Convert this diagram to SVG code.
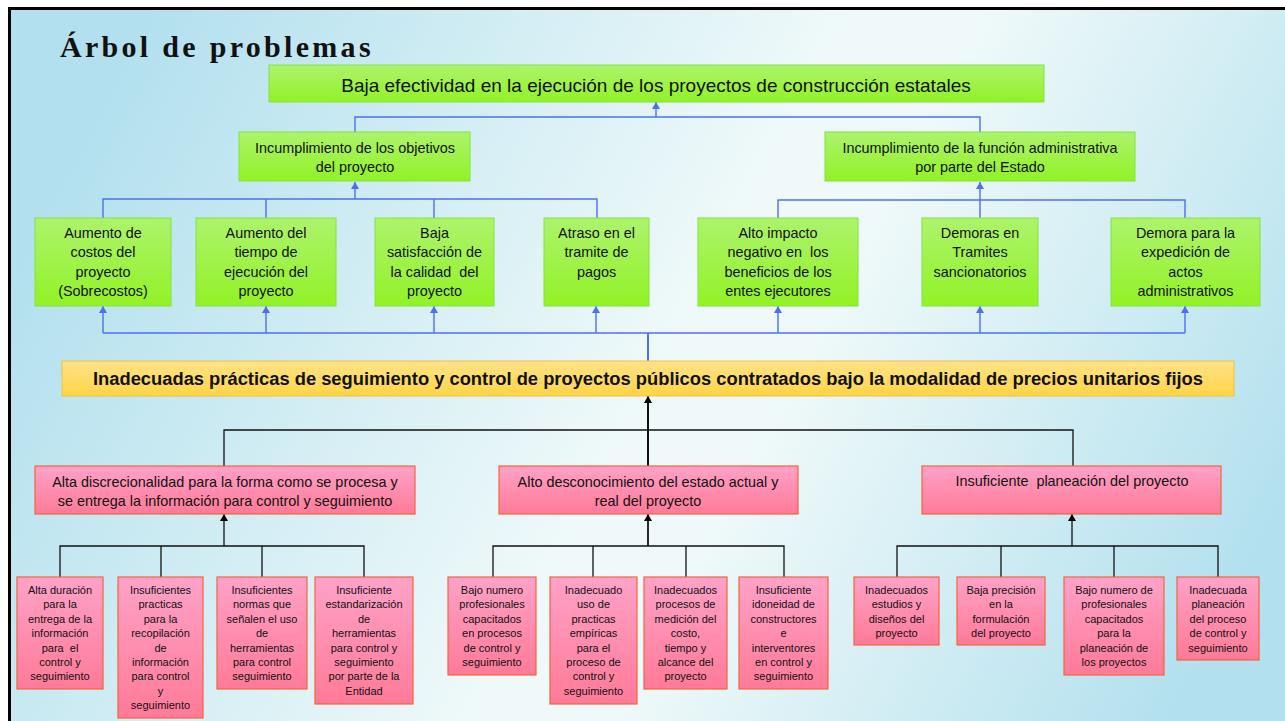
<svg xmlns="http://www.w3.org/2000/svg" width="1285" height="721" viewBox="0 0 1285 721">
<defs>
<linearGradient id="bg" x1="0" y1="0.35" x2="1" y2="0.65">
<stop offset="0" stop-color="#b2e0ee"/>
<stop offset="0.5" stop-color="#eff9f9"/>
<stop offset="0.6" stop-color="#eff9f9"/>
<stop offset="1" stop-color="#b2e0ee"/>
</linearGradient>
<linearGradient id="gGreen" x1="0" y1="0" x2="0" y2="1">
<stop offset="0" stop-color="#adf36c"/>
<stop offset="1" stop-color="#92f226"/>
</linearGradient>
<linearGradient id="gPink" x1="0" y1="0" x2="0" y2="1">
<stop offset="0" stop-color="#ffa2c8"/>
<stop offset="1" stop-color="#ff7a98"/>
</linearGradient>
<linearGradient id="gYellow" x1="0" y1="0" x2="0" y2="1">
<stop offset="0" stop-color="#ffe38a"/>
<stop offset="1" stop-color="#ffd445"/>
</linearGradient>
<marker id="aBlue" markerUnits="userSpaceOnUse" markerWidth="8" markerHeight="8" refX="7" refY="4" orient="auto">
<path d="M0,0 L7,4 L0,8 z" fill="#4d6ff2"/>
</marker>
<marker id="aBlack" markerUnits="userSpaceOnUse" markerWidth="8" markerHeight="8" refX="7" refY="4" orient="auto">
<path d="M0,0 L7,4 L0,8 z" fill="#000"/>
</marker>
</defs>
<style>
.green{fill:url(#gGreen);stroke:#82e43e;stroke-width:1}
.pink{fill:url(#gPink);stroke:#f4643e;stroke-width:1.2}
.yellow{fill:url(#gYellow);stroke:#f2c040;stroke-width:1}
text{font-family:"Liberation Sans",Arial,sans-serif;fill:#111;text-anchor:middle}
.t19{font-size:19px}
.t14{font-size:14.4px}
.t11{font-size:11px}
.tb{font-size:18px;font-weight:bold}
.blue{fill:none;stroke:#4d6ff2;stroke-width:1.4}
.blk{fill:none;stroke:#111;stroke-width:1.3}
</style>
<rect x="0" y="0" width="1285" height="721" fill="#fff"/>
<rect x="9.5" y="8.5" width="1290" height="730" fill="url(#bg)" stroke="#000" stroke-width="3"/>
<text x="60" y="57" style="font-family:'Liberation Serif','Times New Roman',serif;font-size:30px;font-weight:bold;letter-spacing:3.3px;text-anchor:start">Árbol de problemas</text>

<g id="connectors">
<path class="blue" d="M355,132 V117 H980 V132"/>
<path class="blue" d="M656,117 V102" marker-end="url(#aBlue)"/>
<path class="blue" d="M103,218 V199 H597 V218 M266,199 V218 M434,199 V218"/>
<path class="blue" d="M355,199 V182" marker-end="url(#aBlue)"/>
<path class="blue" d="M778,218 V200 H1185 V218 M980,200 V218"/>
<path class="blue" d="M980,200 V182" marker-end="url(#aBlue)"/>
<path class="blue" d="M103,333 H1185"/>
<path class="blue" style="stroke-width:2" d="M648,361 V333"/>
<path class="blue" d="M103,333 V306" marker-end="url(#aBlue)"/>
<path class="blue" d="M266,333 V306" marker-end="url(#aBlue)"/>
<path class="blue" d="M434,333 V306" marker-end="url(#aBlue)"/>
<path class="blue" d="M596,333 V306" marker-end="url(#aBlue)"/>
<path class="blue" d="M778,333 V306" marker-end="url(#aBlue)"/>
<path class="blue" d="M980,333 V306" marker-end="url(#aBlue)"/>
<path class="blue" d="M1185,333 V306" marker-end="url(#aBlue)"/>
<path class="blk" style="stroke-width:2" d="M648,466 V396" marker-end="url(#aBlack)"/>
<path class="blk" d="M224,466 V430 H1073 V466"/>
<path class="blk" d="M224,546 V514" marker-end="url(#aBlack)"/>
<path class="blk" d="M60,577 V546 H364 V577 M161,546 V577 M262,546 V577"/>
<path class="blk" style="stroke-width:1.8" d="M648,546 V514" marker-end="url(#aBlack)"/>
<path class="blk" d="M493,577 V546 H784 V577 M593,546 V577 M686,546 V577"/>
<path class="blk" d="M1072,546 V514" marker-end="url(#aBlack)"/>
<path class="blk" d="M897,577 V546 H1218 V577 M1001,546 V577 M1114,546 V577"/>
</g>

<g id="n-top">
<rect class="green" x="269" y="65" width="775" height="37"/>
<text class="t19" x="656" y="92">Baja efectividad en la ejecución de los proyectos de construcción estatales</text>
</g>
<g id="n-obj">
<rect class="green" x="239" y="132" width="231" height="49"/>
<text class="t14"><tspan x="355" y="153">Incumplimiento de los objetivos</tspan><tspan x="355" y="172">del proyecto</tspan></text>
</g>
<g id="n-adm">
<rect class="green" x="825" y="132" width="310" height="49"/>
<text class="t14"><tspan x="980" y="153">Incumplimiento de la función administrativa</tspan><tspan x="980" y="172">por parte del Estado</tspan></text>
</g>

<g id="n-costos">
<rect class="green" x="35" y="218" width="136" height="88"/>
<text class="t14"><tspan x="103" y="238">Aumento de</tspan><tspan x="103" y="257.3">costos del</tspan><tspan x="103" y="276.6">proyecto</tspan><tspan x="103" y="296">(Sobrecostos)</tspan></text>
</g>
<g id="n-tiempo">
<rect class="green" x="196" y="218" width="140" height="88"/>
<text class="t14"><tspan x="266" y="238">Aumento del</tspan><tspan x="266" y="257.3">tiempo de</tspan><tspan x="266" y="276.6">ejecución del</tspan><tspan x="266" y="296">proyecto</tspan></text>
</g>
<g id="n-calidad">
<rect class="green" x="375" y="218" width="119" height="88"/>
<text class="t14" xml:space="preserve"><tspan x="434.5" y="238">Baja</tspan><tspan x="434.5" y="257.3">satisfacción de</tspan><tspan x="434.5" y="276.6">la calidad  del</tspan><tspan x="434.5" y="296">proyecto</tspan></text>
</g>
<g id="n-pagos">
<rect class="green" x="544" y="218" width="105" height="88"/>
<text class="t14"><tspan x="596.5" y="238">Atraso en el</tspan><tspan x="596.5" y="257.3">tramite de</tspan><tspan x="596.5" y="276.6">pagos</tspan></text>
</g>
<g id="n-impacto">
<rect class="green" x="698" y="218" width="160" height="88"/>
<text class="t14" xml:space="preserve"><tspan x="778" y="238">Alto impacto</tspan><tspan x="778" y="257.3">negativo en  los</tspan><tspan x="778" y="276.6">beneficios de los</tspan><tspan x="778" y="296">entes ejecutores</tspan></text>
</g>
<g id="n-tramites">
<rect class="green" x="922" y="218" width="116" height="88"/>
<text class="t14"><tspan x="980" y="238">Demoras en</tspan><tspan x="980" y="257.3">Tramites</tspan><tspan x="980" y="276.6">sancionatorios</tspan></text>
</g>
<g id="n-actos">
<rect class="green" x="1111" y="218" width="149" height="88"/>
<text class="t14"><tspan x="1185.5" y="238">Demora para la</tspan><tspan x="1185.5" y="257.3">expedición de</tspan><tspan x="1185.5" y="276.6">actos</tspan><tspan x="1185.5" y="296">administrativos</tspan></text>
</g>

<g id="n-core">
<rect class="yellow" x="62" y="361" width="1172" height="35"/>
<text class="tb" x="648" y="385" textLength="1110" lengthAdjust="spacingAndGlyphs">Inadecuadas prácticas de seguimiento y control de proyectos públicos contratados bajo la modalidad de precios unitarios fijos</text>
</g>

<g id="n-discrec">
<rect class="pink" x="35" y="466" width="380" height="48"/>
<text class="t14"><tspan x="225" y="487">Alta discrecionalidad para la forma como se procesa y</tspan><tspan x="225" y="506">se entrega la información para control y seguimiento</tspan></text>
</g>
<g id="n-descon">
<rect class="pink" x="499" y="466" width="299" height="48"/>
<text class="t14"><tspan x="648" y="487">Alto desconocimiento del estado actual y</tspan><tspan x="648" y="506">real del proyecto</tspan></text>
</g>
<g id="n-planea">
<rect class="pink" x="922" y="466" width="299" height="48"/>
<text class="t14" xml:space="preserve" x="1072" y="486">Insuficiente  planeación del proyecto</text>
</g>

<g id="n-a1">
<rect class="pink" x="17" y="577" width="86" height="112"/>
<text class="t11" xml:space="preserve"><tspan x="60" y="594">Alta duración</tspan><tspan x="60" y="608.4">para la</tspan><tspan x="60" y="622.8">entrega de la</tspan><tspan x="60" y="637.2">información</tspan><tspan x="60" y="651.6">para  el</tspan><tspan x="60" y="666">control y</tspan><tspan x="60" y="680.4">seguimiento</tspan></text>
</g>
<g id="n-a2">
<rect class="pink" x="118" y="577" width="85" height="141"/>
<text class="t11"><tspan x="160.5" y="594">Insuficientes</tspan><tspan x="160.5" y="608.4">practicas</tspan><tspan x="160.5" y="622.8">para la</tspan><tspan x="160.5" y="637.2">recopilación</tspan><tspan x="160.5" y="651.6">de</tspan><tspan x="160.5" y="666">información</tspan><tspan x="160.5" y="680.4">para control</tspan><tspan x="160.5" y="694.8">y</tspan><tspan x="160.5" y="709.2">seguimiento</tspan></text>
</g>
<g id="n-a3">
<rect class="pink" x="217" y="577" width="90" height="112"/>
<text class="t11"><tspan x="262" y="594">Insuficientes</tspan><tspan x="262" y="608.4">normas que</tspan><tspan x="262" y="622.8">señalen el uso</tspan><tspan x="262" y="637.2">de</tspan><tspan x="262" y="651.6">herramientas</tspan><tspan x="262" y="666">para control</tspan><tspan x="262" y="680.4">seguimiento</tspan></text>
</g>
<g id="n-a4">
<rect class="pink" x="315" y="577" width="98" height="127"/>
<text class="t11"><tspan x="364" y="594">Insuficiente</tspan><tspan x="364" y="608.4">estandarización</tspan><tspan x="364" y="622.8">de</tspan><tspan x="364" y="637.2">herramientas</tspan><tspan x="364" y="651.6">para control y</tspan><tspan x="364" y="666">seguimiento</tspan><tspan x="364" y="680.4">por parte de la</tspan><tspan x="364" y="694.8">Entidad</tspan></text>
</g>

<g id="n-b1">
<rect class="pink" x="448" y="577" width="88" height="98"/>
<text class="t11"><tspan x="492" y="594">Bajo numero</tspan><tspan x="492" y="608.4">profesionales</tspan><tspan x="492" y="622.8">capacitados</tspan><tspan x="492" y="637.2">en procesos</tspan><tspan x="492" y="651.6">de control y</tspan><tspan x="492" y="666">seguimiento</tspan></text>
</g>
<g id="n-b2">
<rect class="pink" x="550" y="577" width="87" height="127"/>
<text class="t11"><tspan x="593.5" y="594">Inadecuado</tspan><tspan x="593.5" y="608.4">uso de</tspan><tspan x="593.5" y="622.8">practicas</tspan><tspan x="593.5" y="637.2">empíricas</tspan><tspan x="593.5" y="651.6">para el</tspan><tspan x="593.5" y="666">proceso de</tspan><tspan x="593.5" y="680.4">control y</tspan><tspan x="593.5" y="694.8">seguimiento</tspan></text>
</g>
<g id="n-b3">
<rect class="pink" x="644" y="577" width="83" height="112"/>
<text class="t11"><tspan x="685.5" y="594">Inadecuados</tspan><tspan x="685.5" y="608.4">procesos de</tspan><tspan x="685.5" y="622.8">medición del</tspan><tspan x="685.5" y="637.2">costo,</tspan><tspan x="685.5" y="651.6">tiempo y</tspan><tspan x="685.5" y="666">alcance del</tspan><tspan x="685.5" y="680.4">proyecto</tspan></text>
</g>
<g id="n-b4">
<rect class="pink" x="739" y="577" width="89" height="112"/>
<text class="t11"><tspan x="783.5" y="594">Insuficiente</tspan><tspan x="783.5" y="608.4">idoneidad de</tspan><tspan x="783.5" y="622.8">constructores</tspan><tspan x="783.5" y="637.2">e</tspan><tspan x="783.5" y="651.6">interventores</tspan><tspan x="783.5" y="666">en control y</tspan><tspan x="783.5" y="680.4">seguimiento</tspan></text>
</g>

<g id="n-c1">
<rect class="pink" x="854" y="577" width="85" height="68"/>
<text class="t11"><tspan x="896.5" y="594">Inadecuados</tspan><tspan x="896.5" y="608.4">estudios y</tspan><tspan x="896.5" y="622.8">diseños del</tspan><tspan x="896.5" y="637.2">proyecto</tspan></text>
</g>
<g id="n-c2">
<rect class="pink" x="957" y="577" width="88" height="68"/>
<text class="t11"><tspan x="1001" y="594">Baja precisión</tspan><tspan x="1001" y="608.4">en la</tspan><tspan x="1001" y="622.8">formulación</tspan><tspan x="1001" y="637.2">del proyecto</tspan></text>
</g>
<g id="n-c3">
<rect class="pink" x="1064" y="577" width="100" height="98"/>
<text class="t11"><tspan x="1114" y="594">Bajo numero de</tspan><tspan x="1114" y="608.4">profesionales</tspan><tspan x="1114" y="622.8">capacitados</tspan><tspan x="1114" y="637.2">para la</tspan><tspan x="1114" y="651.6">planeación de</tspan><tspan x="1114" y="666">los proyectos</tspan></text>
</g>
<g id="n-c4">
<rect class="pink" x="1177" y="577" width="82" height="83"/>
<text class="t11"><tspan x="1218" y="594">Inadecuada</tspan><tspan x="1218" y="608.4">planeación</tspan><tspan x="1218" y="622.8">del proceso</tspan><tspan x="1218" y="637.2">de control y</tspan><tspan x="1218" y="651.6">seguimiento</tspan></text>
</g>
</svg>
